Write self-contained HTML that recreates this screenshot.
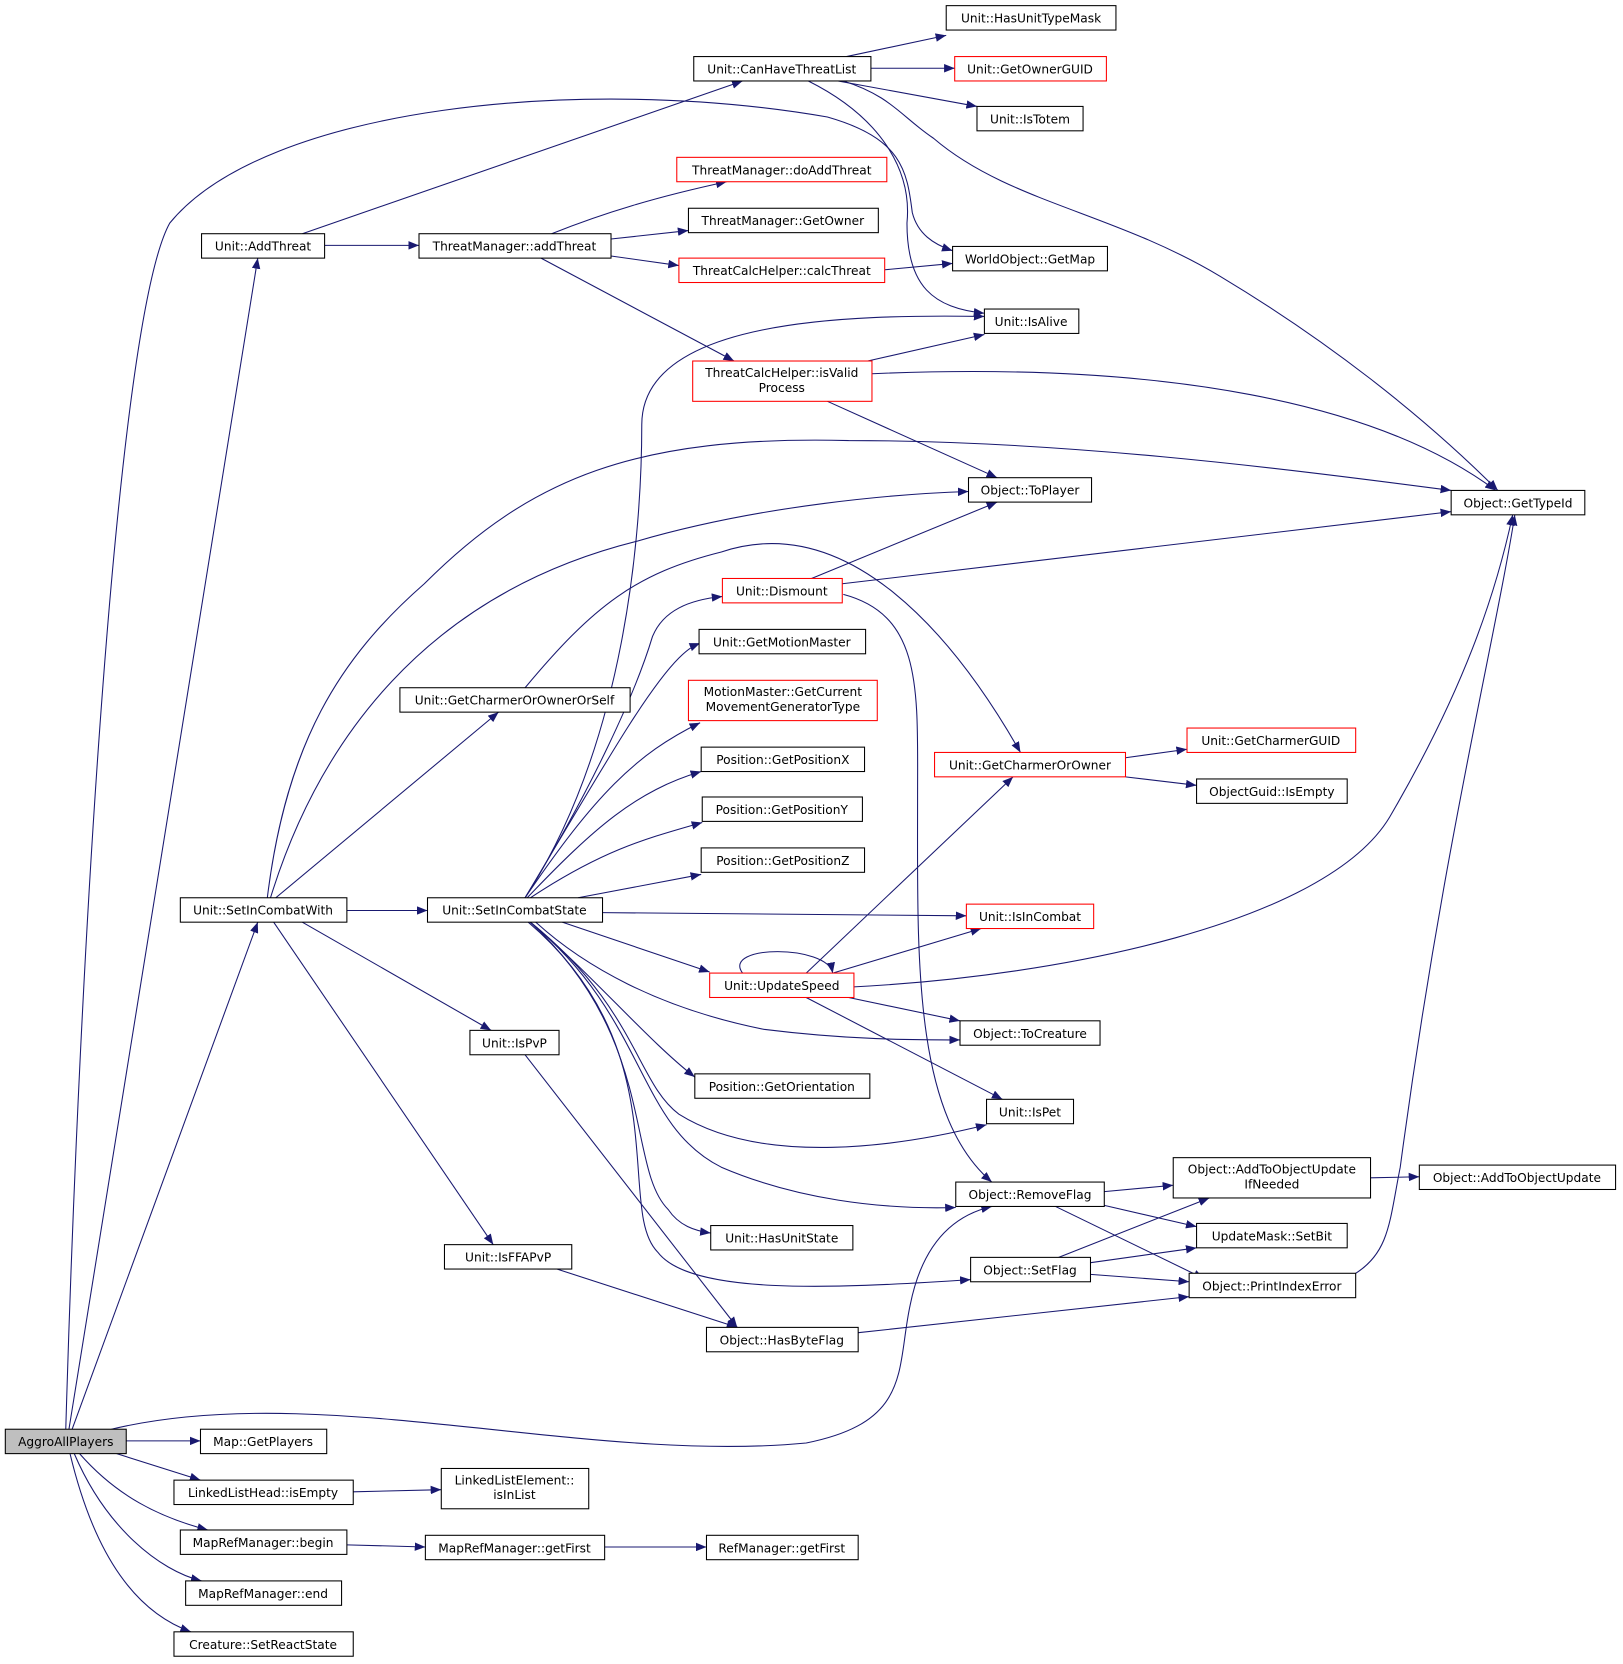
<!DOCTYPE html>
<html><head><meta charset="utf-8"><style>
html,body{margin:0;padding:0;background:#fff;}
svg{display:block;}
text{font-family:"DejaVu Sans","Liberation Sans",sans-serif;font-size:11.5px;fill:#000;text-anchor:middle;}
.b{fill:#fff;stroke:#000;stroke-width:1;}
.r{fill:#fff;stroke:#ff0000;stroke-width:1;}
.g{fill:#bfbfbf;stroke:#000;stroke-width:1;}
path{fill:none;stroke:#191970;stroke-width:1;marker-end:url(#a);}
</style></head><body>
<svg width="1623" height="1664" viewBox="0 0 1530 1568" xmlns="http://www.w3.org/2000/svg">
<defs><marker id="a" markerWidth="10" markerHeight="8" refX="10" refY="4" orient="auto" markerUnits="userSpaceOnUse"><polygon points="0,0 10,4 0,8" fill="#191970"/></marker></defs>
<!-- edges -->
<path d="M65,1347 L243,243"/>
<path d="M62,1347 C75,900 110,300 160,210 C250,100 550,70 780,110 C850,130 855,160 860,200 C865,220 880,230 898,236"/>
<path d="M68,1347 L243,869"/>
<path d="M105,1347 C300,1300 550,1380 760,1360 C860,1340 845,1290 858,1230 C870,1170 900,1145 935,1137"/>
<path d="M119,1358 L189,1358"/>
<path d="M110,1370 L189,1395"/>
<path d="M75,1370 C110,1410 150,1430 196,1442"/>
<path d="M70,1370 C100,1440 150,1480 190,1490"/>
<path d="M66,1370 C90,1470 130,1520 180,1538"/>
<path d="M333,1406 L416,1404"/>
<path d="M327,1456 L401,1458"/>
<path d="M570,1458 L666,1458"/>
<path d="M306,231 L395,231"/>
<path d="M285,220 L700,76"/>
<path d="M798,53 L892,33"/>
<path d="M821,64 L900,64"/>
<path d="M790,76 L921,100"/>
<path d="M795,76 C840,90 850,110 880,130 C950,190 1050,200 1150,260 C1250,320 1340,390 1412,462"/>
<path d="M762,76 C830,110 860,160 855,210 C855,270 880,290 928,295"/>
<path d="M520,220 C570,200 620,185 685,171"/>
<path d="M576,225 L649,217"/>
<path d="M576,241 L640,250"/>
<path d="M510,243 L692,340"/>
<path d="M834,254 L898,248"/>
<path d="M818,340 L928,315"/>
<path d="M822,352 C1100,340 1300,380 1410,462"/>
<path d="M780,378 L940,450"/>
<path d="M260,846 L470,671"/>
<path d="M327,858 L403,858"/>
<path d="M285,869 L463,971"/>
<path d="M258,869 L465,1173"/>
<path d="M252,846 C270,700 320,620 400,550 C500,450 600,410 800,415 C1000,415 1200,440 1368,462"/>
<path d="M255,846 C300,700 400,560 600,510 C720,475 850,465 913,463"/>
<path d="M495,648 C560,570 600,540 680,520 C800,480 900,600 962,709"/>
<path d="M495,846 C590,700 605,500 605,400 C605,300 800,296 928,298"/>
<path d="M495,846 C560,740 600,650 615,600 C625,575 650,565 681,562"/>
<path d="M495,846 C570,720 610,650 640,620 C650,610 655,608 660,606"/>
<path d="M495,846 C560,750 600,710 660,681"/>
<path d="M497,846 C560,780 600,745 661,727"/>
<path d="M500,846 C570,800 610,790 662,775"/>
<path d="M545,846 L661,824"/>
<path d="M568,860 L911,863"/>
<path d="M530,869 L669,916"/>
<path d="M505,869 C550,910 620,950 720,970 C800,980 860,980 905,980"/>
<path d="M500,869 C560,920 610,980 655,1015"/>
<path d="M500,869 C600,950 600,1020 640,1050 C720,1100 850,1080 930,1060"/>
<path d="M500,869 C610,960 600,1060 680,1100 C750,1130 830,1140 901,1138"/>
<path d="M500,869 C620,980 590,1100 630,1140 C640,1155 655,1160 670,1162"/>
<path d="M498,869 C640,990 580,1140 620,1180 C650,1220 780,1215 915,1206"/>
<path d="M765,545 L940,473"/>
<path d="M794,550 L1368,482"/>
<path d="M795,560 C870,580 865,650 865,750 C865,900 860,1050 935,1114"/>
<path d="M1061,714 L1119,706"/>
<path d="M1061,732 L1128,740"/>
<path d="M700,917 C680,890 780,890 785,917"/>
<path d="M760,917 L955,732"/>
<path d="M785,917 L925,875"/>
<path d="M805,930 C1000,920 1250,870 1310,770 C1380,650 1410,560 1426,485"/>
<path d="M800,940 L905,962"/>
<path d="M760,940 L945,1036"/>
<path d="M495,994 L695,1251"/>
<path d="M525,1196 L695,1251"/>
<path d="M1041,1123 L1106,1117"/>
<path d="M1041,1136 L1128,1156"/>
<path d="M995,1137 L1135,1205"/>
<path d="M998,1185 L1140,1129"/>
<path d="M1028,1190 L1128,1176"/>
<path d="M1028,1201 L1121,1208"/>
<path d="M809,1256 L1121,1222"/>
<path d="M1292,1110 L1338,1109"/>
<path d="M1278,1200 C1310,1180 1310,1150 1320,1100 C1360,800 1410,600 1428,485"/>
<!-- nodes -->
<g>
<rect class="g" x="5" y="1347" width="114" height="23"/><text x="62" y="1363">AggroAllPlayers</text>
<rect class="b" x="189" y="1347" width="119" height="23"/><text x="248" y="1363">Map::GetPlayers</text>
<rect class="b" x="164" y="1395" width="169" height="23"/><text x="248" y="1411">LinkedListHead::isEmpty</text>
<rect class="b" x="170" y="1442" width="157" height="23"/><text x="248" y="1458">MapRefManager::begin</text>
<rect class="b" x="175" y="1490" width="147" height="23"/><text x="248" y="1506">MapRefManager::end</text>
<rect class="b" x="164" y="1538" width="169" height="23"/><text x="248" y="1554">Creature::SetReactState</text>
<rect class="b" x="416" y="1384" width="139" height="38"/><text x="485" y="1399">LinkedListElement::</text><text x="485" y="1413">isInList</text>
<rect class="b" x="401" y="1447" width="169" height="23"/><text x="485" y="1463">MapRefManager::getFirst</text>
<rect class="b" x="666" y="1447" width="143" height="23"/><text x="737" y="1463">RefManager::getFirst</text>
<rect class="b" x="190" y="220" width="116" height="23"/><text x="248" y="236">Unit::AddThreat</text>
<rect class="b" x="170" y="846" width="157" height="23"/><text x="248" y="862">Unit::SetInCombatWith</text>
<rect class="b" x="654" y="53" width="167" height="23"/><text x="737" y="69">Unit::CanHaveThreatList</text>
<rect class="b" x="892" y="5" width="160" height="23"/><text x="972" y="21">Unit::HasUnitTypeMask</text>
<rect class="r" x="900" y="53" width="143" height="23"/><text x="971" y="69">Unit::GetOwnerGUID</text>
<rect class="b" x="921" y="100" width="100" height="23"/><text x="971" y="116">Unit::IsTotem</text>
<rect class="r" x="638" y="148" width="198" height="23"/><text x="737" y="164">ThreatManager::doAddThreat</text>
<rect class="b" x="649" y="196" width="179" height="23"/><text x="738" y="212">ThreatManager::GetOwner</text>
<rect class="b" x="395" y="220" width="181" height="23"/><text x="485" y="236">ThreatManager::addThreat</text>
<rect class="r" x="640" y="243" width="194" height="23"/><text x="737" y="259">ThreatCalcHelper::calcThreat</text>
<rect class="b" x="898" y="232" width="146" height="23"/><text x="971" y="248">WorldObject::GetMap</text>
<rect class="b" x="928" y="291" width="89" height="23"/><text x="972" y="307">Unit::IsAlive</text>
<rect class="r" x="653" y="340" width="169" height="38"/><text x="737" y="355">ThreatCalcHelper::isValid</text><text x="737" y="369">Process</text>
<rect class="b" x="913" y="450" width="116" height="23"/><text x="971" y="466">Object::ToPlayer</text>
<rect class="b" x="1368" y="462" width="126" height="23"/><text x="1431" y="478">Object::GetTypeId</text>
<rect class="r" x="681" y="545" width="113" height="23"/><text x="737" y="561">Unit::Dismount</text>
<rect class="b" x="659" y="593" width="157" height="23"/><text x="737" y="609">Unit::GetMotionMaster</text>
<rect class="r" x="649" y="641" width="178" height="38"/><text x="738" y="656">MotionMaster::GetCurrent</text><text x="738" y="670">MovementGeneratorType</text>
<rect class="b" x="377" y="648" width="217" height="23"/><text x="485" y="664">Unit::GetCharmerOrOwnerOrSelf</text>
<rect class="b" x="661" y="704" width="154" height="23"/><text x="738" y="720">Position::GetPositionX</text>
<rect class="b" x="662" y="751" width="151" height="23"/><text x="737" y="767">Position::GetPositionY</text>
<rect class="b" x="661" y="799" width="154" height="23"/><text x="738" y="815">Position::GetPositionZ</text>
<rect class="r" x="881" y="709" width="180" height="23"/><text x="971" y="725">Unit::GetCharmerOrOwner</text>
<rect class="r" x="1119" y="686" width="159" height="23"/><text x="1198" y="702">Unit::GetCharmerGUID</text>
<rect class="b" x="1128" y="734" width="142" height="23"/><text x="1199" y="750">ObjectGuid::IsEmpty</text>
<rect class="b" x="403" y="846" width="165" height="23"/><text x="485" y="862">Unit::SetInCombatState</text>
<rect class="r" x="911" y="852" width="120" height="23"/><text x="971" y="868">Unit::IsInCombat</text>
<rect class="r" x="669" y="917" width="136" height="23"/><text x="737" y="933">Unit::UpdateSpeed</text>
<rect class="b" x="905" y="962" width="132" height="23"/><text x="971" y="978">Object::ToCreature</text>
<rect class="b" x="443" y="971" width="84" height="23"/><text x="485" y="987">Unit::IsPvP</text>
<rect class="b" x="655" y="1012" width="165" height="23"/><text x="737" y="1028">Position::GetOrientation</text>
<rect class="b" x="930" y="1036" width="82" height="23"/><text x="971" y="1052">Unit::IsPet</text>
<rect class="b" x="901" y="1114" width="140" height="23"/><text x="971" y="1130">Object::RemoveFlag</text>
<rect class="b" x="1106" y="1091" width="186" height="38"/><text x="1199" y="1106">Object::AddToObjectUpdate</text><text x="1199" y="1120">IfNeeded</text>
<rect class="b" x="1338" y="1098" width="185" height="23"/><text x="1430" y="1114">Object::AddToObjectUpdate</text>
<rect class="b" x="1128" y="1153" width="142" height="23"/><text x="1199" y="1169">UpdateMask::SetBit</text>
<rect class="b" x="670" y="1155" width="134" height="23"/><text x="737" y="1171">Unit::HasUnitState</text>
<rect class="b" x="419" y="1173" width="120" height="23"/><text x="479" y="1189">Unit::IsFFAPvP</text>
<rect class="b" x="915" y="1185" width="113" height="23"/><text x="971" y="1201">Object::SetFlag</text>
<rect class="b" x="1121" y="1200" width="157" height="23"/><text x="1199" y="1216">Object::PrintIndexError</text>
<rect class="b" x="666" y="1251" width="143" height="23"/><text x="737" y="1267">Object::HasByteFlag</text>
</g>
</svg>
</body></html>
